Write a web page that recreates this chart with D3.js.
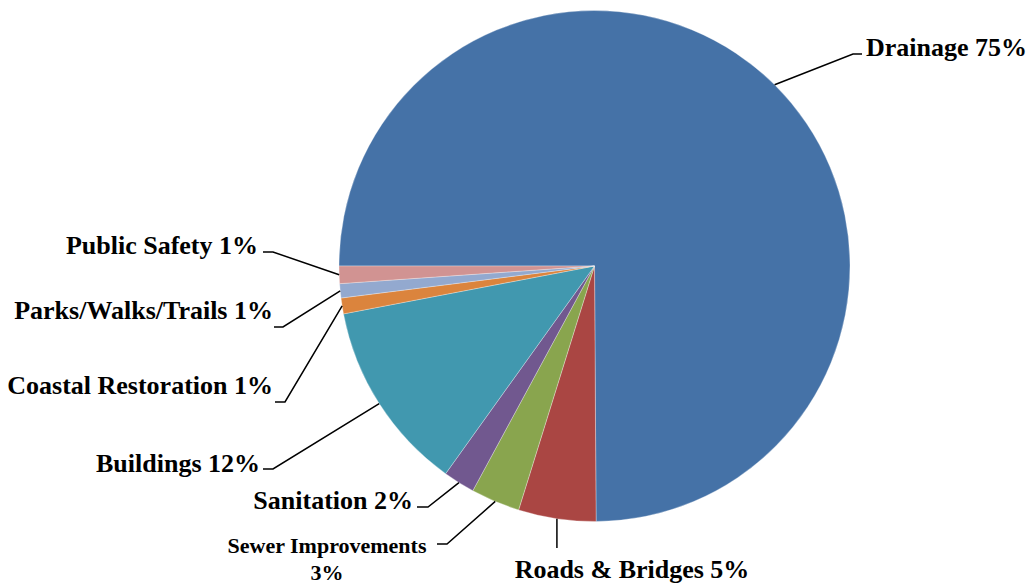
<!DOCTYPE html>
<html><head><meta charset="utf-8">
<script src="https://cdn.jsdelivr.net/npm/d3@7"></script>
<style>
html,body{margin:0;padding:0;background:#fff;}
svg{display:block;}
text{font-family:"Liberation Serif","Times New Roman",serif;font-weight:bold;fill:#000;}
</style></head>
<body><svg id="c" width="1031" height="584"></svg>
<script>
// Data (Excel order, first slice angle 270°)
const categories = ["Drainage","Roads & Bridges","Sewer Improvements","Sanitation","Buildings","Coastal Restoration","Parks/Walks/Trails","Public Safety"];
const values = [74.9, 4.9, 3.1, 2.0, 12.1, 1.0, 0.9, 1.1];
const pctLabels = ["75%","5%","3%","2%","12%","1%","1%","1%"];
const colors = ["#4572A7","#AA4643","#89A54E","#71588F","#4198AF","#DB843D","#93A9CF","#D19392"];

// Layout of labels (elbow point, line start, text anchor point)
const labelLayout = [
  {elbow:[853,54], lineEnd:[862,54], tx:866, ty:56, anchor:"start", size:26},
  {vertical:true, elbow:[0,548], tx:632, ty:578, anchor:"middle", size:26},
  {elbow:[447,544], lineEnd:[437,544], tx:327, ty:553, anchor:"middle", size:22, twoLine:true, ty2:580},
  {elbow:[428,507], lineEnd:[417,507], tx:413, ty:509, anchor:"end", size:26},
  {elbow:[273,469], lineEnd:[263,469], tx:260, ty:472, anchor:"end", size:26},
  {elbow:[285,402], lineEnd:[275,402], tx:273, ty:394, anchor:"end", size:26},
  {elbow:[283,327], lineEnd:[274,327], tx:273, ty:319, anchor:"end", size:26},
  {elbow:[273,252], lineEnd:[263,252], tx:258, ty:254, anchor:"end", size:26}
];

const cx = 594.5, cy = 266, r = 255.5;
const svg = d3.select("#c");
const g = svg.append("g").attr("transform", `translate(${cx},${cy})`);

const pie = d3.pie().sort(null).value(d => d).startAngle(Math.PI*1.5).endAngle(Math.PI*3.5);
const arcs = pie(values);
const arc = d3.arc().innerRadius(0).outerRadius(r);

g.selectAll("path.slice").data(arcs).enter().append("path")
  .attr("class","slice")
  .attr("d", arc)
  .attr("fill", (d,i) => colors[i])
  .attr("stroke", "rgba(255,255,255,0.5)")
  .attr("stroke-width", 0.6);

arcs.forEach((a,i) => {
  const L = labelLayout[i];
  const mid = (a.startAngle + a.endAngle)/2;
  const sx = cx + r*Math.sin(mid), sy = cy - r*Math.cos(mid);
  let pts;
  if (L.vertical) {
    pts = [[sx,sy],[sx,L.elbow[1]]];
  } else {
    pts = [[sx,sy], L.elbow, L.lineEnd];
  }
  svg.append("path")
    .attr("d", d3.line()(pts))
    .attr("fill","none").attr("stroke","#000").attr("stroke-width",1.5);
  if (L.twoLine) {
    svg.append("text").attr("x",L.tx).attr("y",L.ty).attr("text-anchor",L.anchor)
      .attr("font-size",L.size).text(categories[i]);
    svg.append("text").attr("x",L.tx).attr("y",L.ty2).attr("text-anchor",L.anchor)
      .attr("font-size",L.size).text(pctLabels[i]);
  } else {
    svg.append("text").attr("x",L.tx).attr("y",L.ty).attr("text-anchor",L.anchor)
      .attr("font-size",L.size).text(categories[i] + " " + pctLabels[i]);
  }
});
</script></body></html>
